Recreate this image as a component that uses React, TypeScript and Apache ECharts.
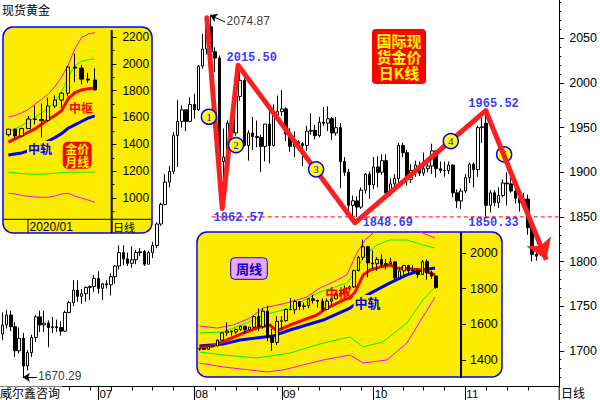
import React, { useEffect, useRef } from 'react';
import * as echarts from 'echarts';

const FONT_NUM = '"Liberation Sans", Arial, sans-serif';
const FONT_CJK = '"Noto Sans CJK SC", "Noto Sans", sans-serif';
const FONT_MONO = '"Liberation Mono", "DejaVu Sans Mono", monospace';
const YELLOW = '#fcec00';
const BLUE = '#0000ff';
const RED = '#ff1e1e';

// ---------------- daily (main) chart ----------------
const dayMonths: [string, number[]][] = [
  ['05', [29]],
  ['06', [1, 2, 3, 4, 5, 8, 9, 10, 11, 12, 15, 16, 17, 18, 19, 22, 23, 24, 25, 26, 29, 30]],
  ['07', [1, 2, 3, 6, 7, 8, 9, 10, 13, 14, 15, 16, 17, 20, 21, 22, 23, 24, 27, 28, 29, 30, 31]],
  ['08', [3, 4, 5, 6, 7, 10, 11, 12, 13, 14, 17, 18, 19, 20, 21, 24, 25, 26, 27, 28, 31]],
  ['09', [1, 2, 3, 4, 7, 8, 9, 10, 11, 14, 15, 16, 17, 18, 21, 22, 23, 24, 25, 28, 29, 30]],
  ['10', [1, 2, 5, 6, 7, 8, 9, 12, 13, 14, 15, 16, 19, 20, 21, 22, 23, 26, 27, 28, 29, 30]],
  ['11', [2, 3, 4, 5, 6, 9, 10, 11, 12, 13, 16, 17, 18, 19, 20, 23, 24, 25]],
];
const mainDates: string[] = dayMonths.flatMap(([m, ds]) => ds.map((d) => `${m}-${String(d).padStart(2, '0')}`));

// [open, close, low, high]
const mainOHLC: number[][] = [
  // May
  [1719, 1729, 1712, 1743],
  // Jun
  [1729, 1740, 1725, 1746], [1740, 1727, 1722, 1745], [1727, 1700, 1693, 1732], [1700, 1714, 1697, 1726],
  [1714, 1683, 1670.29, 1720], [1683, 1698, 1678, 1701], [1698, 1715, 1693, 1718], [1715, 1738, 1710, 1740],
  [1738, 1729, 1721, 1745], [1729, 1731, 1721, 1745], [1731, 1726, 1704, 1734], [1726, 1727, 1720, 1738],
  [1727, 1726, 1721, 1735], [1726, 1722, 1717, 1733], [1722, 1743, 1721, 1745], [1743, 1754, 1742, 1756],
  [1754, 1768, 1750, 1779], [1768, 1761, 1755, 1779], [1761, 1764, 1753, 1769], [1764, 1771, 1755, 1772],
  [1771, 1772, 1757, 1773], [1772, 1781, 1766, 1785],
  // Jul
  [1781, 1770, 1764, 1789], [1770, 1775, 1757, 1776], [1775, 1774, 1770, 1779], [1774, 1783, 1762, 1787],
  [1783, 1795, 1775, 1796], [1795, 1810, 1791, 1818], [1810, 1803, 1796, 1818], [1803, 1798, 1795, 1810],
  [1798, 1802, 1793, 1817], [1802, 1810, 1797, 1813], [1810, 1811, 1806, 1815], [1811, 1797, 1795, 1813],
  [1797, 1810, 1797, 1812], [1810, 1818, 1804, 1822], [1818, 1842, 1815, 1844], [1842, 1864, 1840, 1866],
  [1864, 1889, 1863, 1898], [1889, 1901, 1883, 1907], [1901, 1941, 1898, 1945], [1941, 1957, 1906, 1981],
  [1957, 1970, 1950, 1975], [1970, 1957, 1946, 1970], [1957, 1976, 1956, 1984],
  // Aug
  [1976, 1970, 1960, 1988], [1970, 2019, 1969, 2020], [2019, 2038, 2016, 2055], [2038, 2063, 2032, 2069],
  [2063, 2035, 2015, 2074.87], [2035, 2028, 2012, 2040], [2028, 1912, 1911, 2031], [1912, 1917, 1862.57, 1949],
  [1917, 1955, 1904, 1958], [1955, 1944, 1935, 1960], [1944, 1985, 1941, 1989], [1985, 2003, 1980, 2015.5],
  [2003, 1930, 1929, 2014], [1930, 1944, 1913, 1947], [1944, 1940, 1925, 1962], [1940, 1939, 1928, 1958],
  [1939, 1929, 1900, 1942], [1929, 1954, 1912, 1954], [1954, 1930, 1910, 1976], [1930, 1964, 1929, 1976],
  [1964, 1968, 1960, 1986],
  // Sep
  [1968, 1971, 1963, 1992], [1971, 1943, 1935, 1973], [1943, 1929, 1923, 1950], [1929, 1934, 1917, 1946],
  [1934, 1932, 1924, 1936], [1932, 1930, 1907, 1934], [1930, 1946, 1924, 1952], [1946, 1947, 1942, 1966],
  [1947, 1941, 1937, 1953], [1941, 1956, 1939, 1962], [1956, 1955, 1952, 1973], [1955, 1960, 1946, 1974],
  [1960, 1944, 1936, 1962], [1944, 1950, 1941, 1962], [1950, 1912, 1882, 1955], [1912, 1900, 1896, 1917],
  [1900, 1863, 1856, 1904], [1863, 1868, 1848.69, 1874], [1868, 1861, 1850, 1873], [1861, 1880, 1859, 1883],
  [1880, 1898, 1876, 1899], [1898, 1886, 1870, 1901],
  // Oct
  [1886, 1906, 1881, 1917], [1906, 1900, 1883, 1918], [1900, 1913, 1897, 1920], [1913, 1877, 1873, 1920],
  [1877, 1887, 1874, 1893], [1887, 1893, 1881, 1898], [1893, 1930, 1888, 1933], [1930, 1922, 1917, 1933],
  [1922, 1892, 1885, 1925], [1892, 1902, 1888, 1909], [1902, 1908, 1895, 1913], [1908, 1899, 1896, 1912],
  [1899, 1904, 1896, 1922], [1904, 1907, 1900, 1916], [1907, 1924, 1898, 1932], [1924, 1904, 1894, 1925],
  [1904, 1902, 1899, 1912], [1902, 1902, 1895, 1912], [1902, 1908, 1898, 1912], [1908, 1877, 1872, 1909],
  [1877, 1868, 1860, 1881], [1868, 1879, 1859, 1882],
  // Nov
  [1879, 1894, 1877, 1898], [1894, 1909, 1888, 1911], [1909, 1903, 1883, 1911], [1903, 1950, 1895, 1952],
  [1950, 1951, 1933, 1961], [1955, 1863, 1850.33, 1965.52], [1863, 1877, 1855, 1880], [1877, 1866, 1862, 1880],
  [1866, 1874, 1860, 1883], [1874, 1888, 1872, 1892], [1888, 1887, 1863, 1900], [1887, 1879, 1877, 1896],
  [1879, 1871, 1865, 1883], [1871, 1866, 1856, 1875], [1866, 1870, 1860, 1877], [1870, 1838, 1830, 1875],
  [1838, 1808, 1800, 1839], [1808, 1806, 1801, 1814],
];

const mainYTicks = [1700, 1750, 1800, 1850, 1900, 1950, 2000, 2050];
const mainYMinor: number[] = [];
for (let v = 1670; v <= 2090; v += 10) if (v % 50 !== 0) mainYMinor.push(v);

// wave drawing (x in trading-day index units, y in price)
const zigzag: number[][] = [[49.0, 2073], [52.7, 1859.5], [56.5, 2020], [84.5, 1843.4], [115.9, 1969]];
const arrowEnd: number[] = [130.4, 1802];
const waveNumbers: [number, number, string][] = [
  [49.5, 1962.2, '1'], [56.0, 1930.5, '2'], [75.2, 1903.3, '3'], [107.5, 1935, '4'], [120.3, 1920, '5'],
];
const blueLabels: [number, number, string][] = [
  [53.6, 2028.5, '2015.50'], [50.5, 1848.7, '1862.57'], [86.2, 1843.1, '1848.69'],
  [111.6, 1976.4, '1965.52'], [111.6, 1843.1, '1850.33'],
];
const blackLabels: [number, number, string][] = [
  [53.6, 2069.4, '2074.87'], [8.4, 1671.5, '1670.29'],
];
const supportLevel = 1850;
const supportSpan = [50.2, 133.3];
const pointerLines: number[][][] = [
  [[53.4, 2068.3], [49.8, 2076.1]],
  [[8.3, 1670.29], [4.9, 1670.29]],
];

// ---------------- monthly inset ----------------
const monthCats = ['2019/10', '2019/11', '2019/12', '2020/01', '2020/02', '2020/03', '2020/04', '2020/05',
  '2020/06', '2020/07', '2020/08', '2020/09', '2020/10', '2020/11'];
const monthOHLC: number[][] = [
  [1472, 1513, 1459, 1516], [1513, 1463, 1445, 1515], [1463, 1517, 1458, 1524], [1517, 1589, 1517, 1611],
  [1589, 1585, 1548, 1689], [1585, 1577, 1451, 1704], [1577, 1686, 1567, 1748], [1686, 1730, 1670, 1765],
  [1730, 1781, 1670, 1789], [1781, 1976, 1757, 1984], [1976, 1968, 1863, 2075], [1968, 1886, 1848, 1992],
  [1886, 1879, 1859, 1933], [1879, 1806, 1800, 1966],
];
const monthMagUp = [1604, 1615, 1635, 1660, 1700, 1735, 1775, 1830, 1900, 1990, 2110, 2195, 2222, 2232];
const monthGreenUp = [1495, 1515, 1540, 1570, 1600, 1635, 1670, 1715, 1790, 1900, 1985, 2020, 2030, 2036];
const monthRed = [1416, 1440, 1465, 1490, 1515, 1550, 1585, 1615, 1650, 1740, 1785, 1805, 1815, 1820];
const monthBlue = [1320, 1328, 1336, 1350, 1375, 1400, 1425, 1450, 1480, 1520, 1545, 1570, 1595, 1612];
const monthGreenLo = [1193, 1188, 1182, 1178, 1178, 1178, 1180, 1185, 1190, 1193, 1193, 1193, 1193, 1193];
const monthMagLo = [1036, 1030, 1020, 1013, 1008, 1006, 1006, 1015, 1030, 1036, 1015, 999, 985, 969];
const monthYTicks = [1000, 1200, 1400, 1600, 1800, 2000, 2200];
const monthYMinor = [900, 1100, 1300, 1500, 1700, 1900, 2100];

// ---------------- weekly inset ----------------
const weekOHLC: number[][] = [
  [1462, 1463, 1452, 1466], [1463, 1460, 1456, 1484], [1460, 1476, 1458, 1479], [1476, 1479, 1471, 1482],
  [1479, 1511, 1477, 1514], [1511, 1552, 1510, 1553], [1552, 1562, 1535, 1611], [1562, 1557, 1536, 1563],
  [1557, 1571, 1546, 1575], [1571, 1589, 1563, 1591], [1589, 1570, 1548, 1591], [1570, 1584, 1562, 1584],
  [1584, 1643, 1579, 1649], [1643, 1586, 1563, 1689], [1586, 1674, 1576, 1692], [1674, 1529, 1504, 1704],
  [1529, 1498, 1451, 1575], [1498, 1617, 1484, 1645], [1617, 1620, 1567, 1645], [1620, 1683, 1615, 1689],
  [1683, 1682, 1681, 1747], [1682, 1728, 1659, 1738], [1728, 1700, 1679, 1731], [1700, 1704, 1681, 1722],
  [1704, 1743, 1690, 1745], [1743, 1734, 1717, 1765], [1734, 1730, 1694, 1739], [1730, 1683, 1670, 1745],
  [1683, 1730, 1678, 1745], [1730, 1743, 1704, 1745], [1743, 1771, 1742, 1779], [1771, 1774, 1757, 1789],
  [1774, 1798, 1762, 1818], [1798, 1810, 1793, 1817], [1810, 1901, 1804, 1907], [1901, 1976, 1898, 1984],
  [1976, 2035, 1960, 2075], [2035, 1944, 1863, 2040], [1944, 1940, 1913, 2015], [1940, 1964, 1900, 1976],
  [1964, 1934, 1917, 1992], [1934, 1941, 1907, 1966], [1941, 1950, 1936, 1974], [1950, 1861, 1848, 1955],
  [1861, 1900, 1859, 1917], [1900, 1930, 1873, 1933], [1930, 1899, 1885, 1933], [1899, 1902, 1894, 1932],
  [1902, 1879, 1859, 1912], [1879, 1951, 1877, 1961], [1951, 1888, 1850, 1965], [1888, 1871, 1855, 1900],
  [1871, 1806, 1800, 1875],
];
const weekMagUp = [[0, 1591], [3.8, 1579], [7.4, 1596], [11.1, 1635], [14, 1691], [19.2, 1720], [23.6, 1753],
  [26.5, 1804], [29.4, 1837], [32.4, 1877], [34.6, 2000], [36.4, 2073], [38.2, 2112], [40, 2150], [43, 2170],
  [46, 2150], [48.5, 2118], [51.8, 2084]];
const weekGreenUp = [[0, 1551], [5.2, 1557], [10.4, 1607], [14, 1652], [19.2, 1686], [26.5, 1781], [32.4, 1832],
  [34.6, 1905], [36, 1978], [39, 2045], [41.9, 2073], [45.6, 2073], [49.1, 2045], [51.8, 2028]];
const weekRed = [[0, 1467], [3, 1480], [6, 1512], [9.6, 1551], [13.3, 1585], [15.5, 1596], [17, 1563],
  [19.9, 1596], [22.8, 1624], [25.8, 1652], [28, 1691], [29.4, 1708], [31.6, 1736], [33.2, 1750], [34.2, 1781],
  [36, 1877], [37.5, 1905], [39.7, 1921], [41.9, 1933], [43.4, 1916], [49.1, 1905], [51.8, 1877]];
const weekBlue = [[0, 1478], [5.2, 1489], [8.9, 1512], [16.2, 1535], [19.9, 1568], [27.2, 1624], [33.1, 1691],
  [36.8, 1764], [41.9, 1832], [45.6, 1877], [49.1, 1905], [51.8, 1916]];
const weekGreenLo = [[0, 1445], [5.2, 1428], [12.6, 1411], [19.9, 1439], [27.2, 1495], [33.1, 1529], [36, 1473],
  [40.3, 1501], [45.6, 1607], [49.1, 1736], [51.8, 1809]];
const weekMagLo = [[0, 1383], [5.2, 1361], [14.8, 1333], [18.4, 1344], [27.2, 1400], [33.1, 1428], [36, 1383],
  [41.2, 1400], [45.6, 1495], [49.1, 1641], [51.8, 1753]];
const weekYTicks = [1400, 1600, 1800, 2000];

const N_MAIN = 134;
const N_MONTH = 16;
const N_WEEK = 58;

function buildOption() {
  const mainCats = [...mainDates, ...Array(N_MAIN - mainDates.length).fill('')];
  const monthAxisCats = [...monthCats, ...Array(N_MONTH - monthCats.length).fill('')];
  const weekAxisCats = [...weekOHLC.map((_, i) => `W${i + 1}`), ...Array(N_WEEK - weekOHLC.length).fill('')];
  const isMonthStart = (i: number) =>
    i > 0 && !!mainCats[i] && mainCats[i].slice(0, 2) !== mainCats[i - 1].slice(0, 2);
  const isMonday = (i: number) => {
    const c = mainCats[i];
    if (!c) return false;
    return new Date(2020, +c.slice(0, 2) - 1, +c.slice(3, 5)).getDay() === 1;
  };
  const plain = (v: number) => String(v);

  const candleStyle = (upFill: string) => ({
    color: upFill, color0: '#000', borderColor: '#000', borderColor0: '#000', borderWidth: 1,
  });

  const monthLine = (data: number[], color: string, width: number, z = 10) => ({
    type: 'line', xAxisIndex: 3, yAxisIndex: 2, data, symbol: 'none', silent: true, z,
    lineStyle: { color, width },
  });
  const weekLine = (data: number[][], color: string, width: number, z = 10) => ({
    type: 'line', xAxisIndex: 5, yAxisIndex: 4, data, symbol: 'none', silent: true, z,
    lineStyle: { color, width },
  });

  const txt = (x: number, y: number, text: string, font: string, fill: string, align = 'left', z = 20, extra: any = {}) => ({
    type: 'text', x, y, z, silent: true,
    style: { text, font, fill, textAlign: align, textVerticalAlign: 'middle', ...extra },
  });
  const ln = (x1: number, y1: number, x2: number, y2: number, w = 1, z = 20) => ({
    type: 'line', z, silent: true, shape: { x1, y1, x2, y2 }, style: { stroke: '#000', lineWidth: w },
  });

  const graphic = [
    txt(2, 9, '现货黄金', `12px ${FONT_CJK}`, '#000', 'left', 20),
    txt(0, 392.5, '威尔鑫咨询', `12px ${FONT_CJK}`, '#000', 'left', 20, { backgroundColor: '#fff', padding: [0, 2, 0, 0] }),
    txt(561, 392.5, '日线', `12px ${FONT_CJK}`, '#000', 'left', 20),
    ln(559.2, 386.5, 559.2, 400, 1, 20),
    // red stamp on main chart
    { type: 'rect', z: 6, silent: true, shape: { x: 372, y: 29, width: 54, height: 55, r: 4 }, style: { fill: '#ff0000' } },
    txt(399, 56, '国际现\n货金价\n日K线', `bold 15px ${FONT_CJK}`, '#ffff00', 'center', 7, { lineHeight: 16 }),
    // monthly inset frame
    { type: 'rect', z: 5, silent: true, shape: { x: 3, y: 27, width: 149, height: 206, r: 10 }, style: { fill: YELLOW, stroke: BLUE, lineWidth: 1.5 } },
    ln(3.5, 219.3, 151.5, 219.3, 1, 12),
    ln(28, 219.3, 28, 233, 1, 12),
    ln(111.7, 30, 111.7, 233, 2, 12),
    txt(29.5, 226.5, '2020/01', `12px ${FONT_NUM}`, '#000', 'left', 20),
    txt(113, 226.5, '日线', `11px ${FONT_CJK}`, '#000', 'left', 20),
    txt(81, 107, '中枢', `bold 12px ${FONT_CJK}`, '#ff0000', 'center', 20),
    txt(40, 148, '中轨', `bold 12px ${FONT_CJK}`, BLUE, 'center', 20, { backgroundColor: YELLOW, padding: [1, 1] }),
    { type: 'rect', z: 20, silent: true, shape: { x: 62.7, y: 141.7, width: 29, height: 27, r: 5 }, style: { fill: '#ff0000' } },
    txt(77.2, 155.3, '金价\n月线', `bold 12px ${FONT_CJK}`, '#ffff00', 'center', 21, { lineHeight: 13 }),
    // weekly inset frame
    { type: 'rect', z: 5, silent: true, shape: { x: 197, y: 232, width: 305, height: 145, r: 10 }, style: { fill: YELLOW, stroke: BLUE, lineWidth: 1.5 } },
    ln(461, 232, 461, 378, 2, 12),
    { type: 'rect', z: 20, silent: true, shape: { x: 230.7, y: 257.7, width: 36.6, height: 21.6, r: 4 }, style: { fill: '#f0a6ee', stroke: BLUE, lineWidth: 1 } },
    txt(249, 268.5, '周线', `bold 13px ${FONT_CJK}`, '#0000cc', 'center', 21),
    txt(338.3, 292.5, '中枢', `bold 13px ${FONT_CJK}`, '#ff0000', 'center', 20),
    txt(367.5, 302.5, '中轨', `bold 13px ${FONT_CJK}`, BLUE, 'center', 20, { backgroundColor: YELLOW, padding: [1, 1] }),
  ];

  const annotationData = [
    ...blueLabels.map(([x, y, t]) => ({
      value: [x, y], name: t,
      label: { color: BLUE, fontFamily: FONT_MONO, fontWeight: 'bold', fontSize: 12 },
    })),
    ...blackLabels.map(([x, y, t]) => ({
      value: [x, y], name: t,
      label: { color: '#000', fontFamily: FONT_NUM, fontSize: 12 },
    })),
  ];

  return {
    animation: false,
    backgroundColor: '#fff',
    grid: [
      { left: 0.4, right: 40.8, top: 0, bottom: 13.5, containLabel: false, outerBoundsMode: 'none' },
      { left: 5, width: 106.4, top: 26.9, height: 192.6, containLabel: false, outerBoundsMode: 'none' },
      { left: 197.2, width: 263.8, top: 231.6, height: 146.2, containLabel: false, outerBoundsMode: 'none' },
    ],
    xAxis: [
      {
        type: 'category', gridIndex: 0, data: mainCats, position: 'bottom',
        axisLine: { show: true, onZero: false, lineStyle: { color: '#000', width: 1 } },
        axisTick: { show: true, alignWithLabel: true, interval: (i: number) => isMonday(i), length: 4, lineStyle: { color: '#000' } },
        axisLabel: {
          show: true, interval: (i: number) => isMonthStart(i),
          formatter: (v: string, i: number) => (isMonthStart(i) ? v.slice(0, 2) : ''),
          align: 'left', margin: 1.5, padding: [0, 0, 0, 1], fontSize: 11.5, lineHeight: 12, fontFamily: FONT_NUM, color: '#000',
        },
        splitLine: { show: false },
      },
      {
        type: 'category', gridIndex: 0, data: mainCats, position: 'bottom',
        axisLine: { show: false, onZero: false },
        axisTick: { show: true, alignWithLabel: true, interval: (i: number) => isMonthStart(i), length: 14, lineStyle: { color: '#000' } },
        axisLabel: { show: false }, splitLine: { show: false },
      },
      { type: 'value', gridIndex: 0, min: -0.5, max: N_MAIN - 0.5, show: false, position: 'bottom' },
      { type: 'category', gridIndex: 1, data: monthAxisCats, show: false, position: 'bottom' },
      { type: 'category', gridIndex: 2, data: weekAxisCats, show: false, position: 'bottom' },
      { type: 'value', gridIndex: 2, min: -0.5, max: N_WEEK - 0.5, show: false, position: 'bottom' },
    ],
    yAxis: [
      {
        type: 'value', gridIndex: 0, position: 'right', min: 1660, max: 2093,
        axisLine: { show: true, onZero: false, lineStyle: { color: '#000' } },
        axisTick: { show: true, length: 5, customValues: mainYTicks, lineStyle: { color: '#000' } },
        axisLabel: { show: true, customValues: mainYTicks, formatter: plain, margin: 10, fontSize: 12.5, fontFamily: FONT_NUM, color: '#000' },
        splitLine: { show: false },
      },
      {
        type: 'value', gridIndex: 0, position: 'right', min: 1660, max: 2093,
        axisLine: { show: false, onZero: false },
        axisTick: { show: true, length: 2, customValues: mainYMinor, lineStyle: { color: '#000' } },
        axisLabel: { show: false }, splitLine: { show: false },
      },
      {
        type: 'value', gridIndex: 1, position: 'right', min: 840, max: 2275, z: 12,
        axisLine: { show: false, onZero: false },
        axisTick: { show: true, length: 5, customValues: monthYTicks, lineStyle: { color: '#000' } },
        axisLabel: { show: true, customValues: monthYTicks, formatter: plain, margin: 11, fontSize: 12, fontFamily: FONT_NUM, color: '#000' },
        splitLine: { show: false },
      },
      {
        type: 'value', gridIndex: 1, position: 'right', min: 840, max: 2275, z: 12,
        axisLine: { show: false, onZero: false },
        axisTick: { show: true, length: 3, customValues: monthYMinor, lineStyle: { color: '#000' } },
        axisLabel: { show: false }, splitLine: { show: false },
      },
      {
        type: 'value', gridIndex: 2, position: 'right', min: 1300, max: 2120, z: 12,
        axisLine: { show: false, onZero: false },
        axisTick: { show: true, length: 5, customValues: weekYTicks, lineStyle: { color: '#000' } },
        axisLabel: { show: true, customValues: weekYTicks, formatter: plain, margin: 9, fontSize: 12.5, fontFamily: FONT_NUM, color: '#000' },
        splitLine: { show: false },
      },
    ],
    graphic,
    series: [
      {
        type: 'candlestick', name: 'daily', xAxisIndex: 0, yAxisIndex: 0, data: mainOHLC,
        barWidth: 3, z: 1, silent: true, itemStyle: candleStyle('#fff'),
      },
      {
        type: 'line', name: 'support', xAxisIndex: 2, yAxisIndex: 0, z: 2, silent: true, symbol: 'none',
        data: supportSpan.map((x) => [x, supportLevel]),
        lineStyle: { color: '#ff0000', width: 1, type: [4, 3] },
        itemStyle: { color: '#ff0000' },
      },
      {
        type: 'line', name: 'pointers', xAxisIndex: 2, yAxisIndex: 0, data: [], symbol: 'none', z: 5, silent: true,
        markLine: {
          silent: true, symbol: ['none', 'arrow'], symbolSize: 7, label: { show: false },
          lineStyle: { color: '#000', width: 1, type: 'solid' },
          data: pointerLines.map(([a, b]) => [{ coord: a }, { coord: b }]),
        },
      },
      {
        type: 'line', name: 'wave', xAxisIndex: 2, yAxisIndex: 0, data: zigzag, symbol: 'none', z: 3, silent: true,
        lineStyle: { color: RED, width: 5, join: 'round', cap: 'round' },
        markLine: {
          silent: true, symbol: ['none', 'arrow'], symbolSize: 20, label: { show: false },
          lineStyle: { color: RED, width: 5, type: 'solid' },
          data: [[{ coord: zigzag[zigzag.length - 1] }, { coord: arrowEnd }]],
        },
      },
      {
        type: 'scatter', name: 'waveNo', xAxisIndex: 2, yAxisIndex: 0, z: 4, silent: true,
        data: waveNumbers.map(([x, y, t]) => ({ value: [x, y], name: t })),
        symbolSize: 15, itemStyle: { color: '#ffff00', borderColor: BLUE, borderWidth: 1.5, opacity: 1 },
        label: { show: true, position: 'inside', formatter: '{b}', color: BLUE, fontSize: 11, fontFamily: '"Liberation Serif", serif' },
        labelLayout: { hideOverlap: false },
      },
      {
        type: 'scatter', name: 'notes', xAxisIndex: 2, yAxisIndex: 0, z: 6, silent: true,
        data: annotationData, symbolSize: 1, itemStyle: { color: 'rgba(0,0,0,0)' },
        label: { show: true, position: 'right', distance: 0, formatter: '{b}' },
      },
      // monthly inset
      monthLine(monthMagUp, '#ff00ff', 1),
      monthLine(monthGreenUp, '#00ee00', 1),
      monthLine(monthGreenLo, '#00ee00', 1),
      monthLine(monthMagLo, '#ff00ff', 1),
      monthLine(monthBlue, BLUE, 3),
      monthLine(monthRed, '#ff0000', 3),
      {
        type: 'candlestick', name: 'monthly', xAxisIndex: 3, yAxisIndex: 2, data: monthOHLC,
        barWidth: 4, z: 11, silent: true, itemStyle: candleStyle(YELLOW),
      },
      // weekly inset
      weekLine(weekMagUp, '#ff00ff', 1),
      weekLine(weekGreenUp, '#00ee00', 1),
      weekLine(weekGreenLo, '#00ee00', 1),
      weekLine(weekMagLo, '#ff00ff', 1),
      weekLine(weekBlue, BLUE, 3),
      weekLine(weekRed, '#ff0000', 3),
      {
        type: 'candlestick', name: 'weekly', xAxisIndex: 4, yAxisIndex: 4, data: weekOHLC,
        barWidth: 3, z: 11, silent: true, itemStyle: candleStyle(YELLOW),
      },
    ],
  };
}

export default function App() {
  const ref = useRef<HTMLDivElement>(null);
  useEffect(() => {
    document.body.style.margin = '0';
    const chart = echarts.init(ref.current as HTMLDivElement, null, { renderer: 'svg' });
    chart.setOption(buildOption() as any);
    return () => chart.dispose();
  }, []);
  return <div ref={ref} style={{ width: 600, height: 400 }} />;
}
